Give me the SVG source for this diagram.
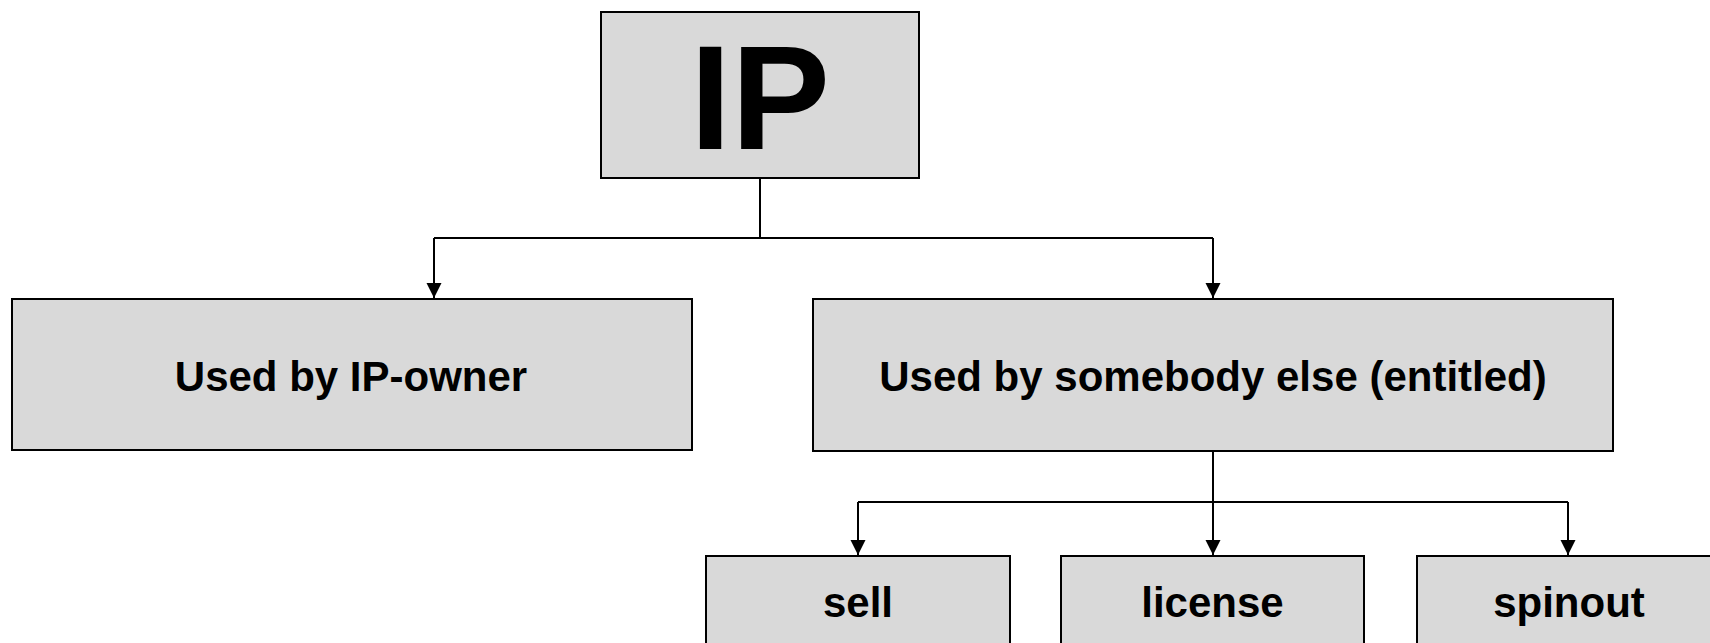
<svg xmlns="http://www.w3.org/2000/svg" width="1710" height="643" viewBox="0 0 1710 643">
  <style>
    .box { fill: #d9d9d9; stroke: #000; stroke-width: 2; }
    .label { font-family: "Liberation Sans", Arial, sans-serif; font-weight: bold; font-size: 42px; fill: #000; text-anchor: middle; }
    .big { font-size: 148px; }
    .wire { fill: none; stroke: #000; stroke-width: 2; }
  </style>
  <defs>
    <marker id="arrow" markerUnits="userSpaceOnUse" markerWidth="16" markerHeight="16" viewBox="0 0 16 16" refX="15" refY="7.5" orient="auto">
      <path d="M0,0 L15,7.5 L0,15 z" fill="#000"/>
    </marker>
  </defs>

  <rect width="1710" height="643" fill="#fff"/>

  <g id="connectors">
    <!-- IP to the two usage branches -->
    <path class="wire" d="M760,178 V238"/>
    <path class="wire" d="M434,238 H1213"/>
    <path class="wire" d="M434,238 V298" marker-end="url(#arrow)"/>
    <path class="wire" d="M1213,238 V298" marker-end="url(#arrow)"/>
    <!-- third-party use to the three exploitation routes -->
    <path class="wire" d="M858,502 H1568"/>
    <path class="wire" d="M1213,451 V555" marker-end="url(#arrow)"/>
    <path class="wire" d="M858,502 V555" marker-end="url(#arrow)"/>
    <path class="wire" d="M1568,502 V555" marker-end="url(#arrow)"/>
  </g>

  <g id="node-ip">
    <rect class="box" x="601" y="12" width="318" height="166"/>
    <text class="label big" x="760" y="149">IP</text>
  </g>

  <g id="node-owner">
    <rect class="box" x="12" y="299" width="680" height="151"/>
    <text class="label" x="351" y="391">Used by IP-owner</text>
  </g>

  <g id="node-other">
    <rect class="box" x="813" y="299" width="800" height="152"/>
    <text class="label" x="1213" y="391">Used by somebody else (entitled)</text>
  </g>

  <g id="node-sell">
    <rect class="box" x="706" y="556" width="304" height="120"/>
    <text class="label" x="858" y="617">sell</text>
  </g>

  <g id="node-license">
    <rect class="box" x="1061" y="556" width="303" height="120"/>
    <text class="label" x="1212.5" y="617">license</text>
  </g>

  <g id="node-spinout">
    <rect class="box" x="1417" y="556" width="304" height="120"/>
    <text class="label" x="1569" y="617">spinout</text>
  </g>
</svg>
